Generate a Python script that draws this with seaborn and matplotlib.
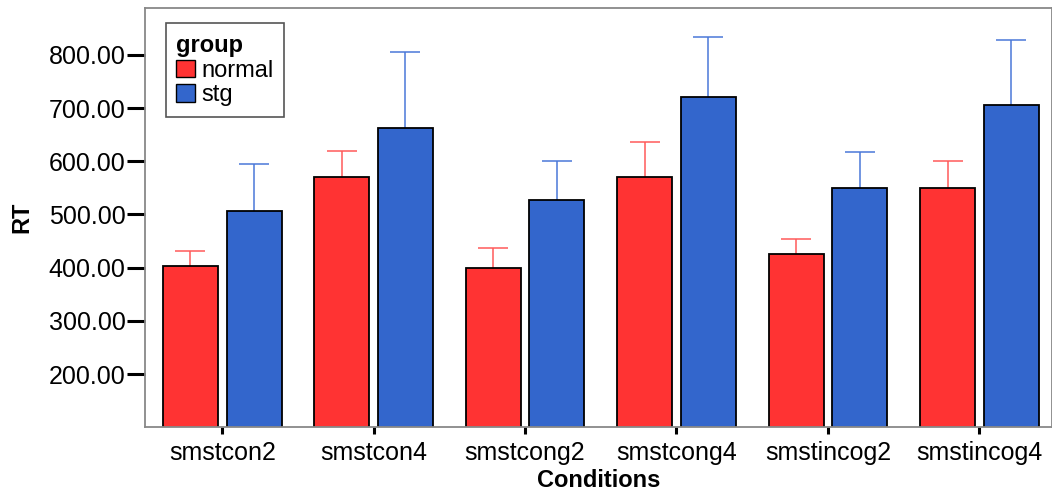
import pandas as pd
import seaborn as sns
import matplotlib.pyplot as plt
from matplotlib.patches import Patch

# data
conditions = ['smstcon2', 'smstcon4', 'smstcong2', 'smstcong4', 'smstincog2', 'smstincog4']
groups = ['normal', 'stg']
normal_mean = [403, 570, 400, 571, 426, 549]
normal_upper = [432, 620, 437, 636, 454, 601]
stg_mean = [507, 663, 527, 721, 549, 705]
stg_upper = [595, 805, 600, 833, 617, 828]
yticks = [200, 300, 400, 500, 600, 700, 800]

bar_colors = {'normal': '#FF3333', 'stg': '#3366CC'}
err_colors = {'normal': '#FF5A5A', 'stg': '#4A78D8'}

df = pd.DataFrame({
    'Conditions': conditions * 2,
    'RT': normal_mean + stg_mean,
    'group': ['normal'] * len(conditions) + ['stg'] * len(conditions),
})
uppers = {'normal': normal_upper, 'stg': stg_upper}
means = {'normal': normal_mean, 'stg': stg_mean}

sns.set_style('white')
plt.rcParams['font.family'] = ['Liberation Sans', 'DejaVu Sans']
plt.rcParams['text.color'] = 'black'
plt.rcParams['axes.labelcolor'] = 'black'
plt.rcParams['xtick.color'] = 'black'
plt.rcParams['ytick.color'] = 'black'

fig = plt.figure(figsize=(10.52, 4.93), dpi=100)
ax = fig.add_axes([145 / 1052, 1 - 427 / 493, 907 / 1052, 419 / 493])

sns.barplot(data=df, x='Conditions', y='RT', hue='group', hue_order=groups,
            palette=bar_colors, width=0.84, gap=0.135, errorbar=None,
            edgecolor='black', linewidth=1.3, saturation=1, legend=False,
            zorder=2, ax=ax)

# upper-only error bars, drawn behind the bars so the lower cap is hidden
for g, cont in zip(groups, ax.containers):
    xs = [p.get_x() + p.get_width() / 2 for p in cont.patches]
    m = means[g]
    up = [u - v for u, v in zip(uppers[g], m)]
    ax.errorbar(xs, [v - 3 for v in m], yerr=[[0] * len(m), [u + 3 for u in up]],
                fmt='none', ecolor=err_colors[g],
                elinewidth=1.1, capsize=10.5, capthick=1.1, zorder=1)

ax.set_xlim(-0.51, 5.48)
ax.set_ylim(100.5, 888)
ax.set_yticks(yticks)
ax.set_yticklabels([f'{v:.2f}' for v in yticks])

ax.tick_params(axis='y', direction='out', length=13, width=2.2, color='black',
               labelsize=18, pad=1, left=True, labelcolor='black')
ax.tick_params(axis='x', direction='out', length=5, width=2.2, color='black',
               labelsize=18, pad=5, bottom=True, labelcolor='black')

ax.set_xlabel('Conditions', fontsize=17, fontweight='bold', labelpad=3)
ax.set_ylabel('RT', fontsize=17, fontweight='bold', labelpad=11)

for s in ax.spines.values():
    s.set_color('#888888')
    s.set_linewidth(1.3)

handles = [Patch(facecolor=bar_colors[g], edgecolor='black', linewidth=1.0, label=g) for g in groups]
leg = ax.legend(handles=handles, title='group', loc='upper left',
                bbox_to_anchor=(0.023, 0.964), fontsize=17, title_fontsize=17,
                frameon=True, fancybox=False, edgecolor='#555555', framealpha=1,
                handlelength=0.8, handleheight=0.75, handletextpad=0.25,
                labelspacing=0.12, borderpad=0.45, borderaxespad=0)
leg.get_title().set_fontweight('bold')
leg._legend_box.align = 'left'
leg.get_frame().set_linewidth(1.2)

fig.savefig('out.png', dpi=100)
